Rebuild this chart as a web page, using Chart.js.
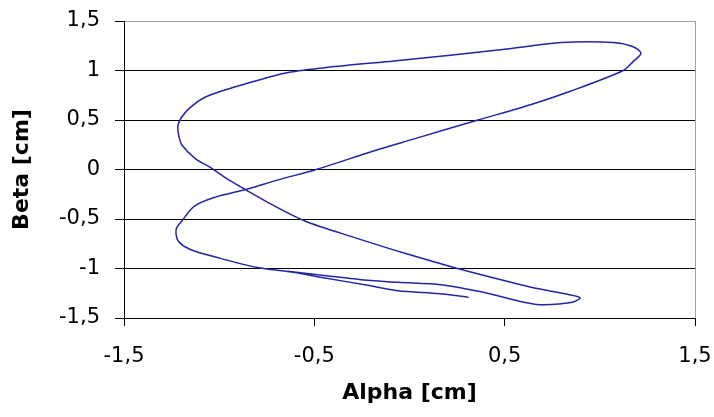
<!DOCTYPE html>
<html>
<head>
<meta charset="utf-8">
<script src="https://cdn.jsdelivr.net/npm/chart.js@4"></script>
<style>
  html, body { margin: 0; padding: 0; background: #fff; }
  #wrap { width: 714px; height: 417px; }
</style>
</head>
<body>
<div id="wrap"><canvas id="chart"></canvas></div>
<script>
// trajectory (cm)
const alpha = [
  0.31, 0.16, -0.06, -0.22, -0.46, -0.62, -0.80, -1.01, -1.154, -1.216,
  -1.226, -1.196, -1.13, -1.03, -0.847, -0.69, -0.49, -0.185, 0.02, 0.36,
  0.64, 0.845, 1.123, 1.175, 1.216, 1.175, 1.07, 0.80, 0.536, 0.227,
  -0.082, -0.391, -0.638, -0.865, -1.074, -1.16, -1.20, -1.217, -1.212, -1.196,
  -1.127, -1.04, -0.952, -0.847, -0.725, -0.55, -0.288, -0.02, 0.247, 0.433,
  0.639, 0.824, 0.896, 0.855, 0.70, 0.60, 0.41, 0.165, -0.06, -0.254,
  -0.46, -0.64
];
const beta = [
  -1.29, -1.255, -1.225, -1.17, -1.09, -1.035, -0.99, -0.889, -0.805, -0.72,
  -0.604, -0.52, -0.37, -0.285, -0.195, -0.105, 0.0, 0.19, 0.307, 0.5,
  0.657, 0.79, 1.0, 1.09, 1.173, 1.24, 1.283, 1.283, 1.223, 1.157,
  1.097, 1.04, 0.98, 0.863, 0.73, 0.613, 0.52, 0.44, 0.34, 0.247,
  0.113, 0.013, -0.103, -0.22, -0.353, -0.52, -0.688, -0.849, -0.997, -1.09,
  -1.19, -1.258, -1.295, -1.342, -1.366, -1.34, -1.25, -1.165, -1.14, -1.113,
  -1.068, -1.028
];
const xTicks = [-1.5, -0.5, 0.5, 1.5];
const yTicks = [-1.5, -1, -0.5, 0, 0.5, 1, 1.5];

const points = alpha.map((a, i) => ({ x: a, y: beta[i] }));
const fmt = v => String(v).replace('.', ',');
const tickFont = { family: 'DejaVu Sans', size: 21 };
const titleFont = { family: 'DejaVu Sans', size: 22, weight: 'bold' };

new Chart(document.getElementById('chart'), {
  type: 'scatter',
  data: {
    datasets: [{
      data: points,
      showLine: true,
      borderColor: '#2424a4',
      borderWidth: 1.5,
      pointRadius: 0,
      tension: 0.3,
      fill: false,
    }],
  },
  options: {
    responsive: true,
    maintainAspectRatio: false,
    animation: false,
    layout: { padding: { top: 21, right: 19, bottom: 0, left: 0 } },
    plugins: { legend: { display: false }, tooltip: { enabled: false } },
    scales: {
      x: {
        type: 'linear',
        min: -1.5,
        max: 1.5,
        afterBuildTicks: s => { s.ticks = xTicks.map(v => ({ value: v })); },
        afterFit: s => { s.height = 99; s.paddingLeft = 0; s.paddingRight = 0; },
        border: { display: true, color: '#000', width: 1 },
        grid: {
          color: c => (c.tick && c.tick.value === 1.5 ? '#a0a0a0' : 'rgba(0,0,0,0)'),
          tickColor: '#000',
          tickLength: 8,
        },
        ticks: { color: '#000', font: tickFont, padding: 18, maxRotation: 0, callback: fmt },
        title: { display: true, text: 'Alpha [cm]', color: '#000', font: titleFont, padding: { top: 4, bottom: 11 } },
      },
      y: {
        type: 'linear',
        min: -1.5,
        max: 1.5,
        afterBuildTicks: s => { s.ticks = yTicks.map(v => ({ value: v })); },
        afterFit: s => { s.width = 124; s.paddingTop = 0; s.paddingBottom = 0; },
        border: { display: true, color: '#000', width: 1 },
        grid: {
          color: c => (c.tick && c.tick.value === 1.5 ? '#a0a0a0' : '#000'),
          tickColor: '#000',
          tickLength: 9,
        },
        ticks: { color: '#000', font: tickFont, padding: 15, callback: fmt },
        title: { display: true, text: 'Beta [cm]', color: '#000', font: titleFont, padding: { top: 9, bottom: 4 } },
      },
    },
  },
});
</script>
</body>
</html>
